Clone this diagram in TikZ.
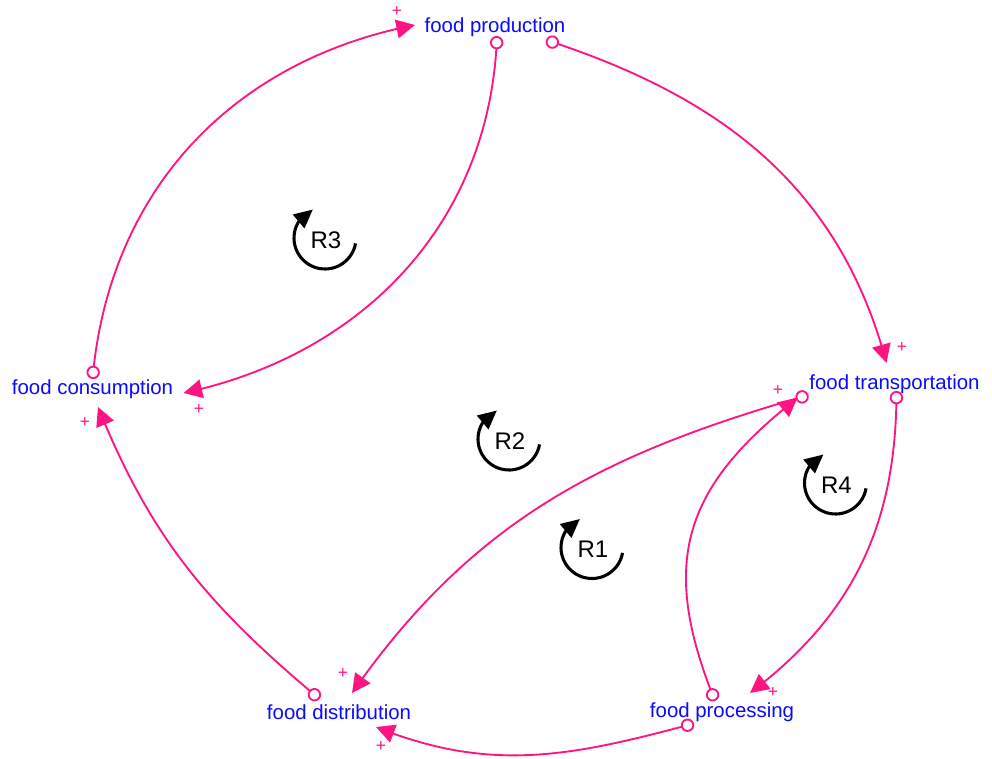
\documentclass[tikz,border=0pt]{standalone}
\usepackage{fontspec}
\setmainfont{Liberation Sans}
\usetikzlibrary{arrows.meta, bending}
\definecolor{linkpink}{RGB}{255,20,130}
\definecolor{varblue}{RGB}{10,10,255}

\begin{document}
\begin{tikzpicture}[x=0.75pt, y=0.75pt,
        var/.style={inner sep=0pt, text=varblue, font=\fontsize{15.3}{18}\selectfont},
        link/.style={draw=linkpink, line width=1.4pt,
            {Circle[open, length=10pt, fill=white]}-{Triangle[length=14pt, width=14pt]}},
        polarity/.style={inner sep=0pt, text=linkpink, font=\fontsize{13}{15}\selectfont},
        loopname/.style={inner sep=0pt, font=\fontsize{18}{20}\selectfont},
        looparrow/.style={line width=2.3pt, -{Triangle[length=14pt, width=13pt, flex]}}]

        % Frame of the whole picture
        \useasboundingbox (0,0) rectangle (992,-759);

        % Variables
        \node[var] (prod) at (495,-27) {food production};
        \node[var] (cons) at (92.5,-389) {food consumption};
        \node[var] (trans) at (894.5,-384) {food transportation};
        \node[var] (dist) at (339,-712) {food distribution};
        \node[var] (proc) at (722,-712) {food processing};

        % Causal links
        \draw[link] ([shift={(0,10)}]cons.center) to[out=85, in=191] ([shift={(-80,2)}]prod.center);
        \draw[link] ([shift={(2,-9)}]prod.center) to[out=268, in=12] ([shift={(91,-4)}]cons.center);
        \draw[link] ([shift={(51,-13)}]prod.center) to[out=-18, in=105] ([shift={(-8,21)}]trans.center);
        \draw[link] ([shift={(2,-7)}]trans.center) to[out=270, in=37] ([shift={(28,19)}]proc.center);
        \draw[link] ([shift={(-7,11)}]proc.center) to[out=112, in=218, looseness=1.2] ([shift={(-97,-14)}]trans.center);
        \draw[link] ([shift={(-86,-11)}]trans.center) to[out=196, in=55] ([shift={(13,19)}]dist.center);
        \draw[link] ([shift={(-28,-11.5)}]proc.center) to[out=195, in=-22] ([shift={(37,-15)}]dist.center);
        \draw[link] ([shift={(-19.5,13)}]dist.center) to[out=140, in=-68] ([shift={(5.5,-18)}]cons.center);

        % Polarity signs
        \node[polarity] (s1) at (397,-12) {+};
        \node[polarity] (s2) at (199,-409) {+};
        \node[polarity] (s3) at (902,-347) {+};
        \node[polarity] (s4) at (773,-692) {+};
        \node[polarity] (s5) at (778,-390) {+};
        \node[polarity] (s6) at (343,-673) {+};
        \node[polarity] (s7) at (381,-746) {+};
        \node[polarity] (s8) at (85,-422) {+};

        % Loop markers
        \node[loopname] (r3) at (326,-240) {R3};
        \node[loopname] (r2) at (510,-441) {R2};
        \node[loopname] (r1) at (593,-549.5) {R1};
        \node[loopname] (r4) at (836.5,-485) {R4};
        \foreach \lp in {r1,r2,r3,r4} {
            \draw[looparrow] ([shift={(-1,2)}]\lp.center) ++(-10:31) arc[start angle=-10, end angle=-247, radius=31];
        }
    \end{tikzpicture}
\end{document}
